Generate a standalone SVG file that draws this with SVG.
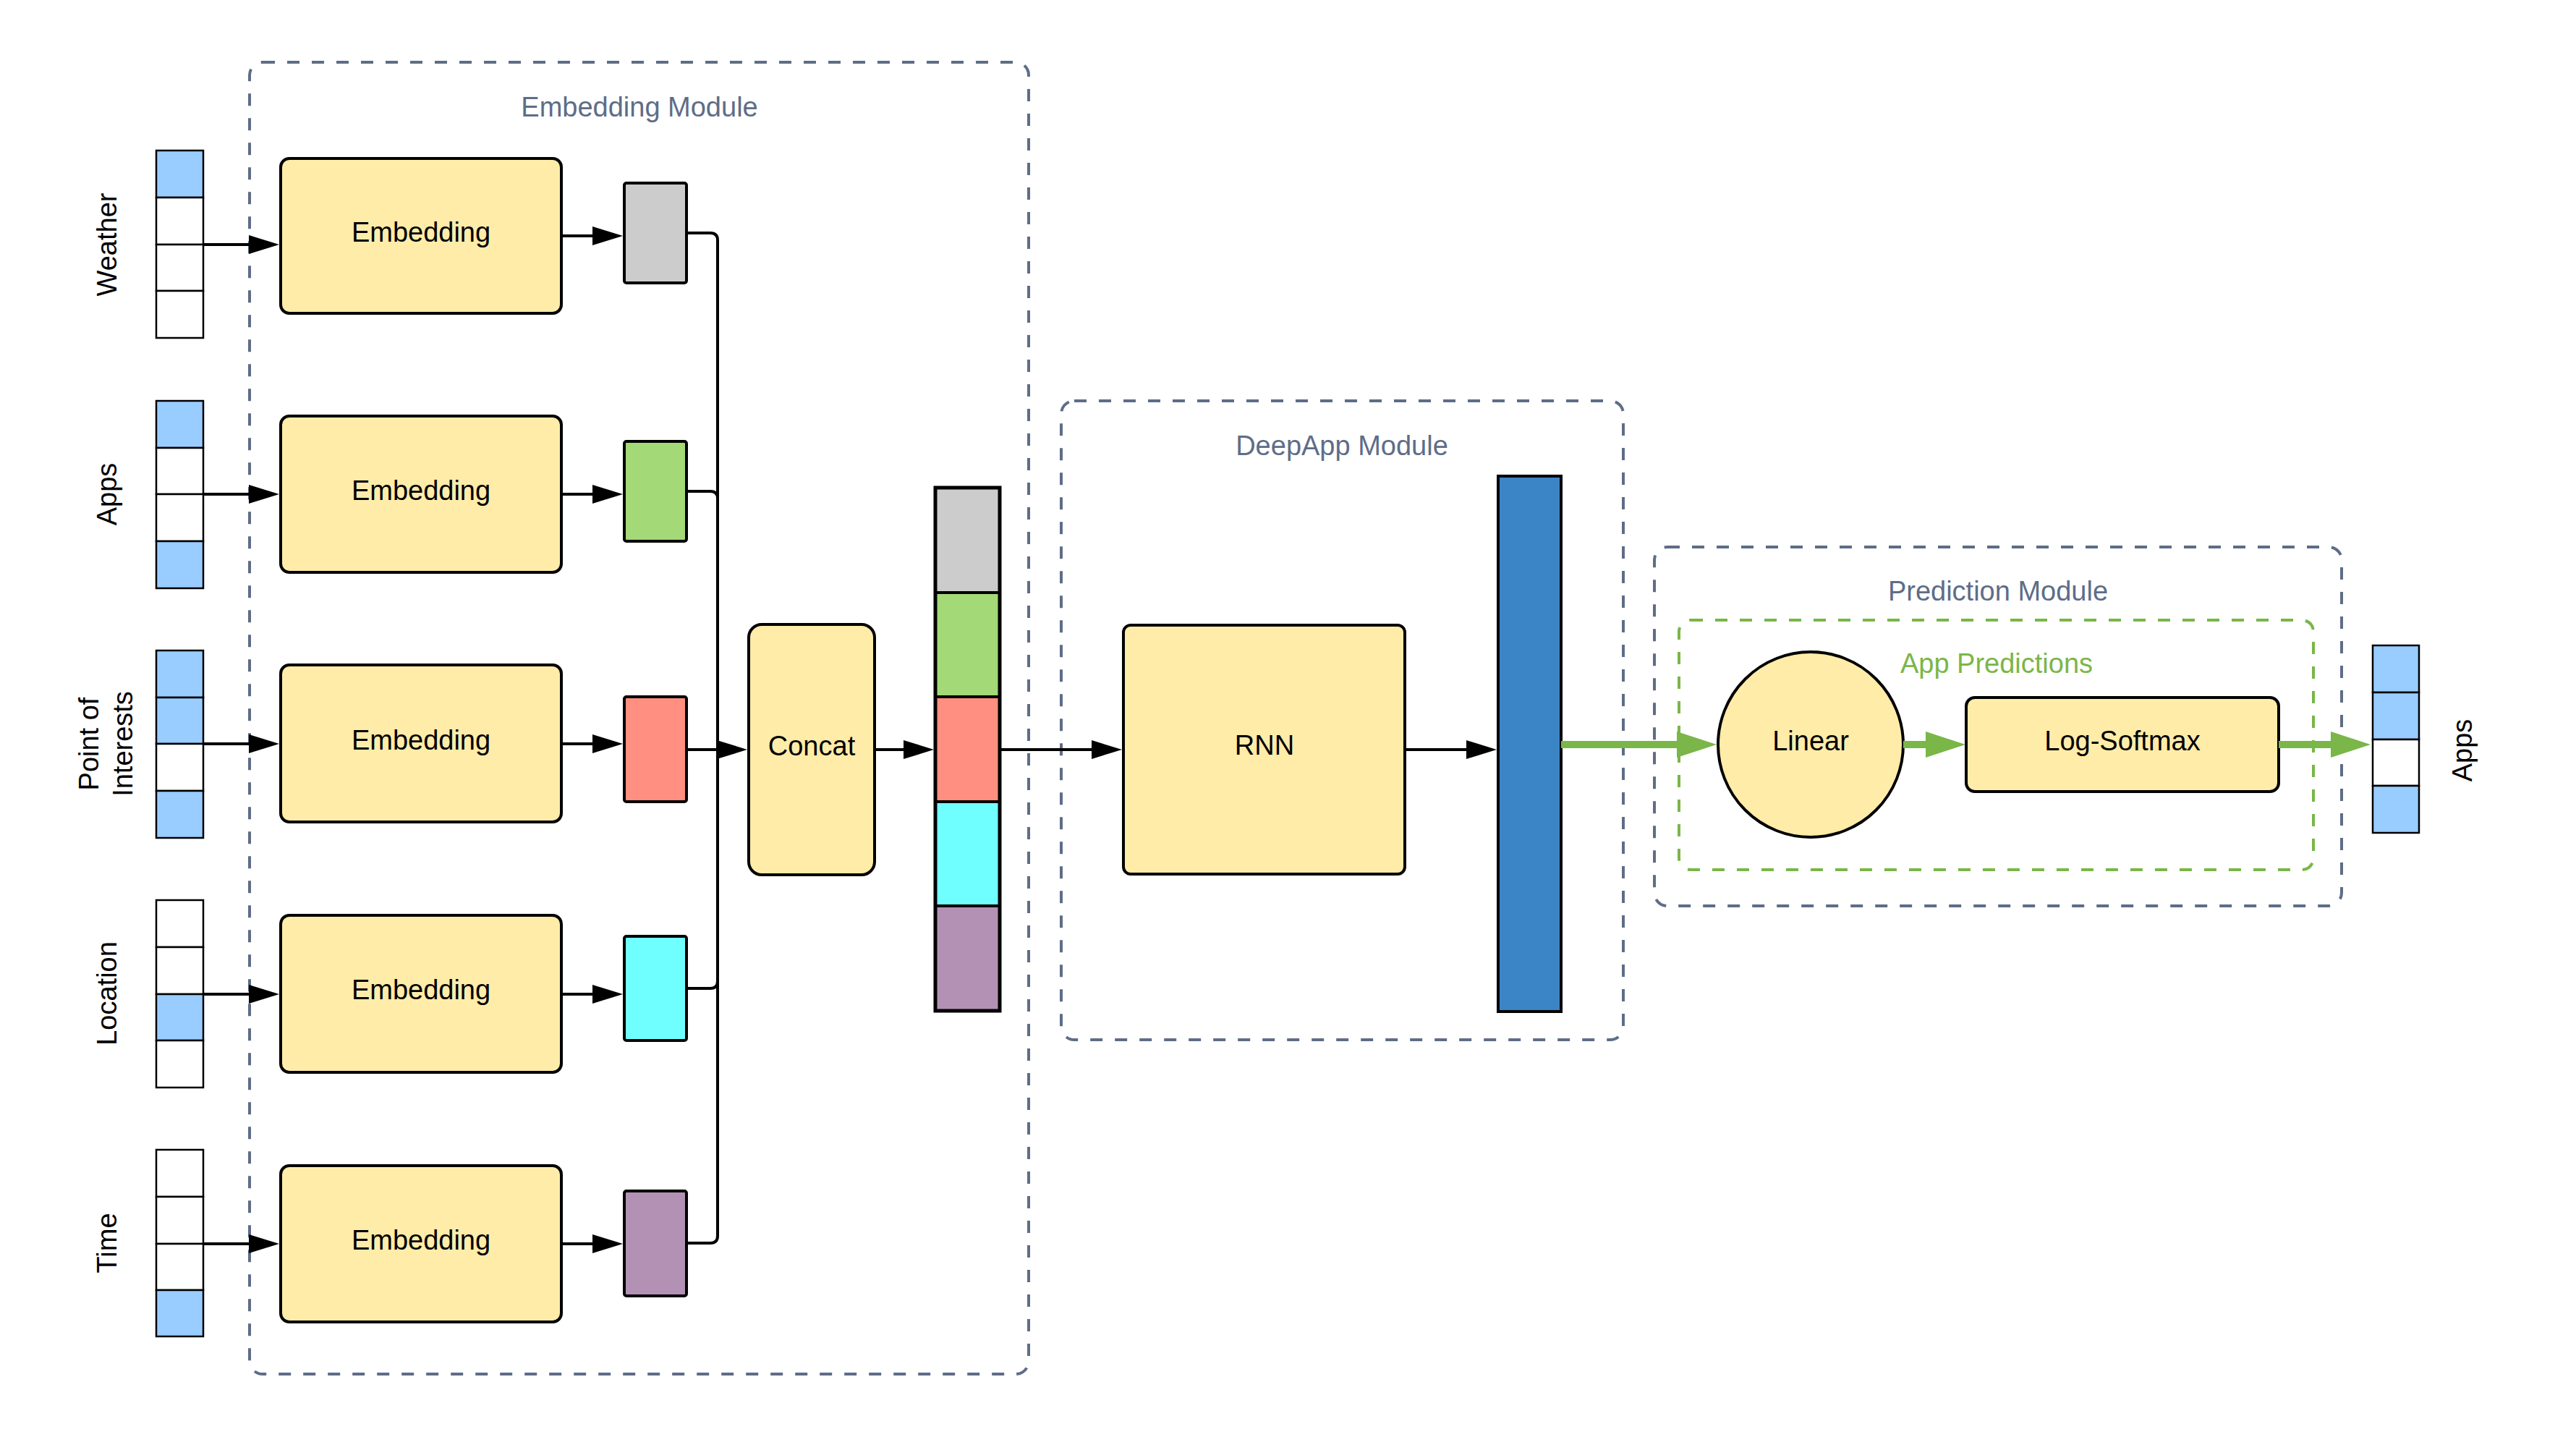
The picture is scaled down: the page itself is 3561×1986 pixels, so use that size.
<svg xmlns="http://www.w3.org/2000/svg" width="3561" height="1986" viewBox="0 0 3561 1986">
<style>
text{font-family:"Liberation Sans",Arial,sans-serif;font-size:38px;fill:#000}
.mod{fill:none;stroke:#5e6d87;stroke-width:4;stroke-dasharray:17 17}
.modg{fill:none;stroke:#7ab648;stroke-width:4;stroke-dasharray:17 17}
.modt{fill:#5e6d87}
.grn{fill:#7ab648}
.box{fill:#ffeca9;stroke:#000;stroke-width:4}
.cell{stroke:#000;stroke-width:2.5}
.on{fill:#99ccff}
.off{fill:#fff}
.sm{stroke:#000;stroke-width:4}
.ln{fill:none;stroke:#000;stroke-width:4}
.gl{fill:none;stroke:#7ab648;stroke-width:10}
</style>
<defs>
<marker id="ab" markerUnits="userSpaceOnUse" markerWidth="42" markerHeight="26" viewBox="0 0 42 26" refX="32" refY="13" orient="auto"><path d="M0,0 L42,13 L0,26 z" fill="#000"/></marker>
<marker id="ag" markerUnits="userSpaceOnUse" markerWidth="55" markerHeight="36" viewBox="0 0 55 36" refX="35" refY="18" orient="auto"><path d="M0,0 L55,18 L0,36 z" fill="#7ab648"/></marker>
</defs>
<rect width="3561" height="1986" fill="#fff"/>

<g id="embedding-module">
<rect class="mod" x="345" y="86" width="1077" height="1813" rx="18"/>
<text class="modt" x="884" y="161" text-anchor="middle">Embedding Module</text>
</g>
<g id="deepapp-module">
<rect class="mod" x="1467" y="554" width="777" height="883" rx="18"/>
<text class="modt" x="1855" y="629" text-anchor="middle">DeepApp Module</text>
</g>
<g id="prediction-module">
<rect class="mod" x="2287" y="756" width="950" height="496" rx="18"/>
<text class="modt" x="2762" y="830" text-anchor="middle">Prediction Module</text>
</g>
<g id="app-predictions">
<rect class="modg" x="2321" y="857" width="877" height="345" rx="16"/>
<text class="grn" x="2760" y="930" text-anchor="middle">App Predictions</text>
</g>

<g id="input-weather">
<rect class="cell on" x="216" y="208" width="65" height="65"/>
<rect class="cell off" x="216" y="273" width="65" height="65"/>
<rect class="cell off" x="216" y="338" width="65" height="64"/>
<rect class="cell off" x="216" y="402" width="65" height="65"/>
<text transform="translate(161,338) rotate(-90)" text-anchor="middle">Weather</text>
</g>
<g id="input-apps">
<rect class="cell on" x="216" y="554" width="65" height="65"/>
<rect class="cell off" x="216" y="619" width="65" height="64"/>
<rect class="cell off" x="216" y="683" width="65" height="65"/>
<rect class="cell on" x="216" y="748" width="65" height="65"/>
<text transform="translate(161,683) rotate(-90)" text-anchor="middle">Apps</text>
</g>
<g id="input-poi">
<rect class="cell on" x="216" y="899" width="65" height="65"/>
<rect class="cell on" x="216" y="964" width="65" height="64"/>
<rect class="cell off" x="216" y="1028" width="65" height="65"/>
<rect class="cell on" x="216" y="1093" width="65" height="65"/>
<text transform="translate(136,1028) rotate(-90)" text-anchor="middle">Point of</text>
<text transform="translate(183,1028) rotate(-90)" text-anchor="middle">Interests</text>
</g>
<g id="input-location">
<rect class="cell off" x="216" y="1244" width="65" height="65"/>
<rect class="cell off" x="216" y="1309" width="65" height="65"/>
<rect class="cell on" x="216" y="1374" width="65" height="64"/>
<rect class="cell off" x="216" y="1438" width="65" height="65"/>
<text transform="translate(161,1373) rotate(-90)" text-anchor="middle">Location</text>
</g>
<g id="input-time">
<rect class="cell off" x="216" y="1589" width="65" height="65"/>
<rect class="cell off" x="216" y="1654" width="65" height="65"/>
<rect class="cell off" x="216" y="1719" width="65" height="64"/>
<rect class="cell on" x="216" y="1783" width="65" height="64"/>
<text transform="translate(161,1718) rotate(-90)" text-anchor="middle">Time</text>
</g>

<g id="emb-weather"><rect class="box" x="388" y="219" width="388" height="214" rx="12"/><text x="582" y="334" text-anchor="middle">Embedding</text></g>
<g id="emb-apps"><rect class="box" x="388" y="575" width="388" height="216" rx="12"/><text x="582" y="691" text-anchor="middle">Embedding</text></g>
<g id="emb-poi"><rect class="box" x="388" y="919" width="388" height="217" rx="12"/><text x="582" y="1036" text-anchor="middle">Embedding</text></g>
<g id="emb-location"><rect class="box" x="388" y="1265" width="388" height="217" rx="12"/><text x="582" y="1381" text-anchor="middle">Embedding</text></g>
<g id="emb-time"><rect class="box" x="388" y="1611" width="388" height="216" rx="12"/><text x="582" y="1727" text-anchor="middle">Embedding</text></g>

<g id="vec-weather"><rect class="sm" x="863" y="253" width="86" height="138" rx="3" fill="#cccccc"/></g>
<g id="vec-apps"><rect class="sm" x="863" y="610" width="86" height="138" rx="3" fill="#a3d977"/></g>
<g id="vec-poi"><rect class="sm" x="863" y="963" width="86" height="145" rx="3" fill="#ff8f80"/></g>
<g id="vec-location"><rect class="sm" x="863" y="1294" width="86" height="144" rx="3" fill="#70ffff"/></g>
<g id="vec-time"><rect class="sm" x="863" y="1646" width="86" height="145" rx="3" fill="#b391b5"/></g>

<g id="concat"><rect class="box" x="1035" y="863" width="174" height="346" rx="18"/><text x="1122" y="1044" text-anchor="middle">Concat</text></g>

<g id="concat-vector">
<rect x="1293" y="674" width="89" height="145" fill="#cccccc"/>
<rect x="1293" y="819" width="89" height="144" fill="#a3d977"/>
<rect x="1293" y="963" width="89" height="145" fill="#ff8f80"/>
<rect x="1293" y="1108" width="89" height="144" fill="#70ffff"/>
<rect x="1293" y="1252" width="89" height="145" fill="#b391b5"/>
<path d="M1293,819 H1382 M1293,963 H1382 M1293,1108 H1382 M1293,1252 H1382" stroke="#000" stroke-width="4"/>
<rect x="1293" y="674" width="89" height="723" fill="none" stroke="#000" stroke-width="5"/>
</g>

<g id="rnn"><rect class="box" x="1553" y="864" width="389" height="344" rx="10"/><text x="1748" y="1043" text-anchor="middle">RNN</text></g>

<g id="hidden-vector"><rect x="2071" y="658" width="87" height="740" fill="#3b84c6" stroke="#000" stroke-width="4"/></g>

<g id="linear"><circle class="box" cx="2503" cy="1029" r="128"/><text x="2503" y="1037" text-anchor="middle">Linear</text></g>
<g id="log-softmax"><rect class="box" x="2718" y="964" width="432" height="130" rx="12"/><text x="2934" y="1037" text-anchor="middle">Log-Softmax</text></g>

<g id="output-apps">
<rect class="cell on" x="3280" y="892" width="64" height="65"/>
<rect class="cell on" x="3280" y="957" width="64" height="65"/>
<rect class="cell off" x="3280" y="1022" width="64" height="64"/>
<rect class="cell on" x="3280" y="1086" width="64" height="65"/>
<text transform="translate(3417,1037) rotate(-90)" text-anchor="middle">Apps</text>
</g>

<g id="connectors">
<path class="ln" d="M281,338 H376" marker-end="url(#ab)"/>
<path class="ln" d="M281,683 H376" marker-end="url(#ab)"/>
<path class="ln" d="M281,1028 H376" marker-end="url(#ab)"/>
<path class="ln" d="M281,1374 H376" marker-end="url(#ab)"/>
<path class="ln" d="M281,1719 H376" marker-end="url(#ab)"/>
<path class="ln" d="M776,326 H851" marker-end="url(#ab)"/>
<path class="ln" d="M776,683 H851" marker-end="url(#ab)"/>
<path class="ln" d="M776,1028 H851" marker-end="url(#ab)"/>
<path class="ln" d="M776,1374 H851" marker-end="url(#ab)"/>
<path class="ln" d="M776,1719 H851" marker-end="url(#ab)"/>
<path class="ln" d="M949,322 H982 Q992,322 992,332 V1036"/>
<path class="ln" d="M949,679 H982 Q992,679 992,689 V1036"/>
<path class="ln" d="M949,1366 H982 Q992,1366 992,1356 V1036"/>
<path class="ln" d="M949,1718 H982 Q992,1718 992,1708 V1036"/>
<path class="ln" d="M949,1036 H1023" marker-end="url(#ab)"/>
<path class="ln" d="M1209,1036 H1281" marker-end="url(#ab)"/>
<path class="ln" d="M1382,1036 H1541" marker-end="url(#ab)"/>
<path class="ln" d="M1942,1036 H2059" marker-end="url(#ab)"/>
<path class="gl" d="M2158,1029 H2353" marker-end="url(#ag)"/>
<path class="gl" d="M2631,1029 H2697" marker-end="url(#ag)"/>
<path class="gl" d="M3150,1029 H3257" marker-end="url(#ag)"/>
</g>
</svg>
